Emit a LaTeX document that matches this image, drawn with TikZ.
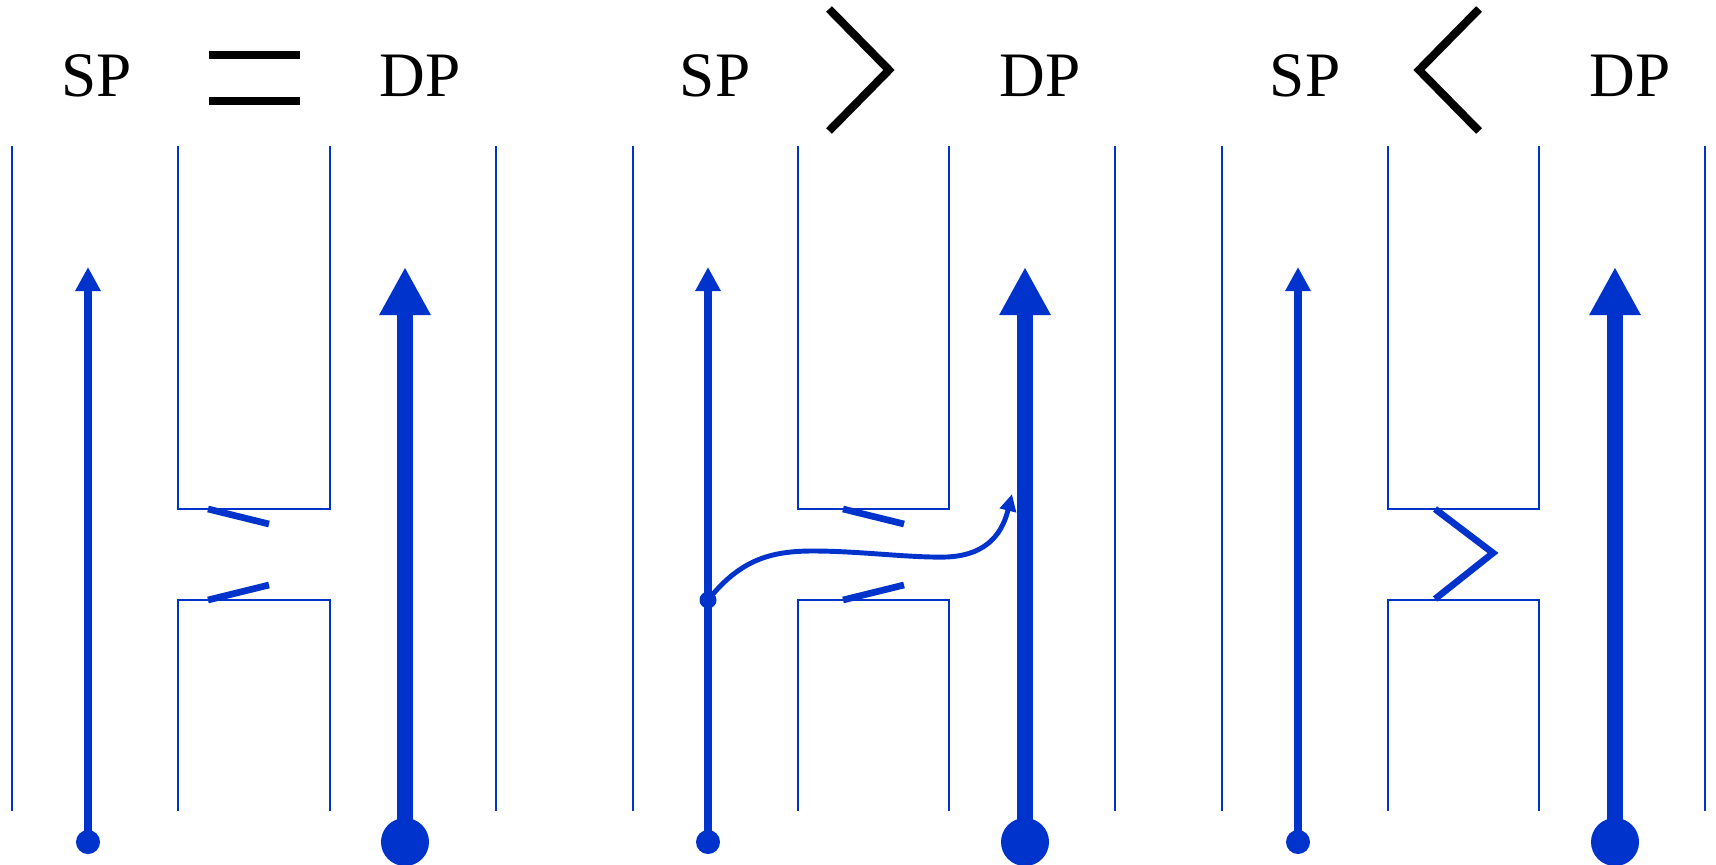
\documentclass[tikz,border=0pt]{standalone}
\usepackage{fontspec}
\setmainfont{Liberation Serif}
\usetikzlibrary{arrows.meta}
\definecolor{flowblue}{RGB}{0,51,204}

\begin{document}
\begin{tikzpicture}[x=0.01cm, y=-0.01cm]
    \tikzstyle{wall} = [draw=flowblue, line width=0.6pt]
    \tikzstyle{flap} = [draw=flowblue, line width=1.9pt]
    \tikzstyle{sign} = [draw=black, line width=2.3pt, miter limit=10]
    \tikzstyle{lbl} = [anchor=base, inner sep=0pt, font=\fontsize{18}{20}\selectfont]
    \tikzstyle{spfoot} = [circle, fill=flowblue, minimum size=0.24cm, inner sep=0pt]
    \tikzstyle{dpfoot} = [circle, fill=flowblue, minimum size=0.48cm, inner sep=0pt]
    \tikzstyle{joint} = [circle, fill=flowblue, minimum size=0.17cm, inner sep=0pt]
    \tikzstyle{sparrow} = [draw=flowblue, line width=2.3pt, -{Triangle[length=0.24cm, width=0.24cm]}]
    \tikzstyle{dparrow} = [draw=flowblue, line width=4.5pt, -{Triangle[length=0.48cm, width=0.48cm]}]
    \tikzstyle{leak} = [draw=flowblue, line width=1.4pt, -{Triangle[length=0.17cm, width=0.16cm]}]

    \useasboundingbox (0,0) rectangle (1716,864);

    % Panel 1: SP = DP
    \node (sp1lbl) [lbl] at (97,97) {SP};
    \node (dp1lbl) [lbl] at (420,97) {DP};
    \draw [sign] (209,55) -- (300,55);
    \draw [sign] (209,101) -- (300,101);
    \draw [wall] (12,146) -- (12,811);
    \draw [wall] (496,146) -- (496,811);
    \draw [wall] (178,146) -- (178,509) -- (330,509) -- (330,146);
    \draw [wall] (178,811) -- (178,600) -- (330,600) -- (330,811);
    \draw [flap] (208,509) -- (269,524);
    \draw [flap] (208,600) -- (269,585);
    \node (sp1foot) [spfoot] at (88,842) {};
    \node (dp1foot) [dpfoot] at (405,842) {};
    \coordinate (sp1tip) at (88,267);
    \coordinate (dp1tip) at (405,267);

    % Panel 2: SP > DP
    \node (sp2lbl) [lbl] at (715,97) {SP};
    \node (dp2lbl) [lbl] at (1040,97) {DP};
    \draw [sign] (829,9) -- (889,70) -- (829,131);
    \draw [wall] (633,146) -- (633,811);
    \draw [wall] (1115,146) -- (1115,811);
    \draw [wall] (798,146) -- (798,509) -- (949,509) -- (949,146);
    \draw [wall] (798,811) -- (798,600) -- (949,600) -- (949,811);
    \draw [flap] (843,509) -- (904,524);
    \draw [flap] (843,600) -- (904,585);
    \node (sp2foot) [spfoot] at (708,842) {};
    \node (dp2foot) [dpfoot] at (1025,842) {};
    \node (sp2joint) [joint] at (708,600) {};
    \coordinate (sp2tip) at (708,267);
    \coordinate (dp2tip) at (1025,267);
    \coordinate (leaktip) at (1012,494);

    % Panel 3: SP < DP
    \node (sp3lbl) [lbl] at (1305,97) {SP};
    \node (dp3lbl) [lbl] at (1630,97) {DP};
    \draw [sign] (1479,9) -- (1419,70) -- (1479,131);
    \draw [wall] (1222,146) -- (1222,811);
    \draw [wall] (1705,146) -- (1705,811);
    \draw [wall] (1388,146) -- (1388,509) -- (1539,509) -- (1539,146);
    \draw [wall] (1388,811) -- (1388,600) -- (1539,600) -- (1539,811);
    \draw [flap] (1435,509) -- (1493,553) -- (1435,599);
    \node (sp3foot) [spfoot] at (1298,842) {};
    \node (dp3foot) [dpfoot] at (1615,842) {};
    \coordinate (sp3tip) at (1298,267);
    \coordinate (dp3tip) at (1615,267);

    % Arrows
    \draw [sparrow] (sp1foot.center) -- (sp1tip);
    \draw [dparrow] (dp1foot.center) -- (dp1tip);
    \draw [sparrow] (sp2foot.center) -- (sp2tip);
    \draw [dparrow] (dp2foot.center) -- (dp2tip);
    \draw [sparrow] (sp3foot.center) -- (sp3tip);
    \draw [dparrow] (dp3foot.center) -- (dp3tip);
    \draw [leak] (sp2joint.center) .. controls (740,560) and (770,551) .. (813,551)
        .. controls (860,551) and (910,558) .. (947,557)
        .. controls (990,555) and (1003,530) .. (leaktip);
\end{tikzpicture}
\end{document}
